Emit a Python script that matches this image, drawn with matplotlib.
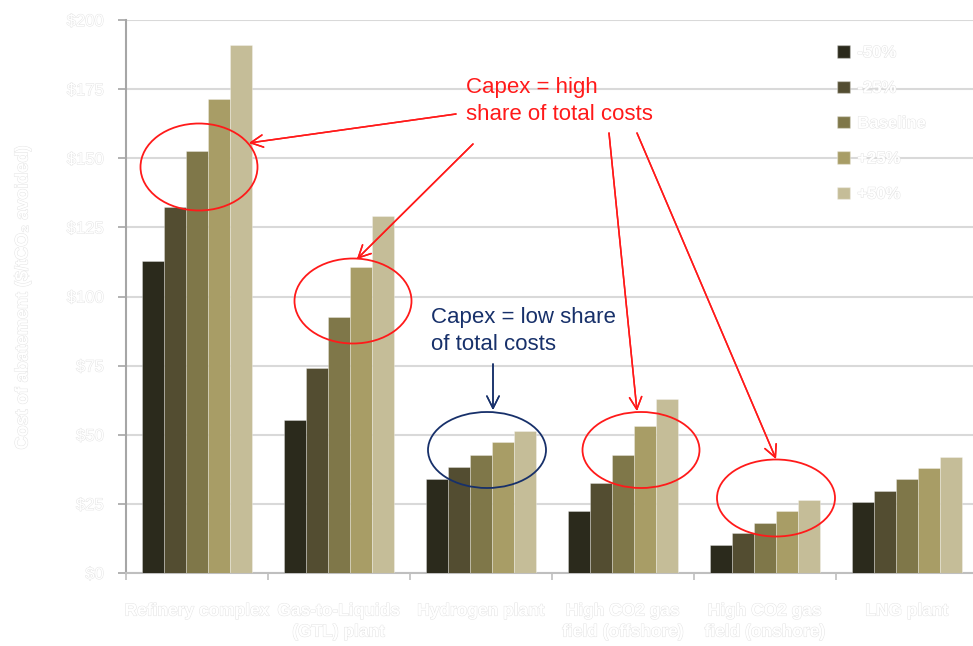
import matplotlib.pyplot as plt
import matplotlib.patheffects as pe
from matplotlib.patches import Ellipse, Patch
import numpy as np

plt.rcParams['font.family'] = ['Liberation Sans', 'DejaVu Sans']

categories = ['Refinery complex', 'Gas-to-Liquids\n(GTL) plant', 'Hydrogen plant',
              'High CO2 gas\nfield (offshore)', 'High CO2 gas\nfield (onshore)', 'LNG plant']
scenarios = ['-50%', '-25%', 'Baseline', '+25%', '+50%']
minus_50 = [113, 55.5, 34, 22.5, 10, 25.5]
minus_25 = [132.5, 74, 38.5, 32.5, 14.5, 29.5]
baseline = [152.5, 92.5, 42.5, 42.5, 18, 34]
plus_25 = [171.5, 110.5, 47.5, 53, 22.5, 38]
plus_50 = [191, 129, 51.5, 63, 26.5, 42]
colors = ['#2b2a1c', '#534d31', '#7f7749', '#a89d66', '#c5bd98']

series = [minus_50, minus_25, baseline, plus_25, plus_50]

W, H = 973, 646
fig = plt.figure(figsize=(W / 100, H / 100), dpi=100)
ax = fig.add_axes([126 / W, 1 - 573 / H, 852 / W, 553 / H])

x = np.arange(len(categories))
bw = 0.155
for i, vals in enumerate(series):
    ax.bar(x + (i - 2) * bw, vals, bw, color=colors[i],
           edgecolor=(1, 1, 1, 0.35), linewidth=0.6, zorder=3)

# faint white text with a light grey rim
ghost = [pe.withStroke(linewidth=0.7, foreground='#e4e4e4')]

ax.set_xlim(-0.5, len(categories) - 0.5)
ax.set_ylim(0, 200)
ax.set_yticks(np.arange(0, 201, 25))
ax.set_yticklabels(['$%d' % v for v in range(0, 201, 25)])
ax.set_xticks(np.arange(-0.5, len(categories)), minor=False)
ax.set_xticklabels([])
ax.set_xticks(x, minor=True)
ax.set_xticklabels(categories, minor=True, fontweight='bold', fontsize=12.5, linespacing=1.5)
ax.tick_params(axis='x', which='minor', length=0, pad=22)
ax.tick_params(axis='x', which='major', length=5, color='#bfbfbf', width=1.2)
ax.tick_params(axis='y', length=6, color='#a6a6a6', width=1.2, labelsize=12, pad=10)
for lab in ax.get_xticklabels(minor=True) + ax.get_yticklabels():
    lab.set_color('white')
    lab.set_path_effects(ghost)

ax.grid(axis='y', color='#d9d9d9', linewidth=1.5, zorder=0)
for s in ['top', 'right']:
    ax.spines[s].set_visible(False)
ax.spines['left'].set_color('#a6a6a6')
ax.spines['left'].set_linewidth(1.5)
ax.spines['bottom'].set_color('#bfbfbf')
ax.spines['bottom'].set_linewidth(1.5)

ylab = fig.text(23 / W, 1 - 298 / H, 'Cost of abatement ($/tCO\u2082 avoided)',
                rotation=90, ha='center', va='center', fontsize=13, fontweight='bold',
                color='white')
ylab.set_path_effects(ghost)

handles = [Patch(facecolor=c, edgecolor=(1, 1, 1, 0.35)) for c in colors]
leg = fig.legend(handles, scenarios, loc='upper left', bbox_to_anchor=(829 / W, 1 - 37 / H),
                 frameon=False, handlelength=0.75, handleheight=0.75, handletextpad=0.45,
                 labelspacing=1.22, borderpad=0, prop={'size': 12, 'weight': 'bold'})
for t in leg.get_texts():
    t.set_color('white')
    t.set_path_effects(ghost)


def fp(px, py):
    return (px / W, 1 - py / H)


red = '#ff1a1a'
navy = '#17306a'

fig.text(*fp(466, 101), 'Capex = high\nshare of total costs', color=red, fontsize=16,
         ha='left', va='center', linespacing=1.4)
fig.text(*fp(431, 331), 'Capex = low share\nof total costs', color=navy, fontsize=16,
         ha='left', va='center', linespacing=1.4)

# circles around the groups
rings = [((199, 167, 117, 87), red), ((353, 301, 117, 85), red), ((487, 450, 118, 76), navy),
         ((641, 450, 117, 76), red), ((776, 498, 118, 77), red)]
for (cx, cy, w, h), c in rings:
    fig.add_artist(Ellipse(fp(cx, cy), w / W, h / H, transform=fig.transFigure,
                           fill=False, edgecolor=c, linewidth=1.3))

arrows = [((456, 114), (249, 143), red), ((473, 144), (357, 259), red),
          ((609, 133), (637, 411), red), ((637, 133), (776, 459), red),
          ((493, 364), (493, 410), navy)]
for tail, head, c in arrows:
    fig.add_artist(plt.annotate('', xy=fp(*head), xytext=fp(*tail), xycoords='figure fraction',
                                textcoords='figure fraction',
                                arrowprops=dict(arrowstyle='->', color=c, lw=1.1,
                                                mutation_scale=22, shrinkA=0, shrinkB=0)))

fig.savefig('out.png', dpi=100)
